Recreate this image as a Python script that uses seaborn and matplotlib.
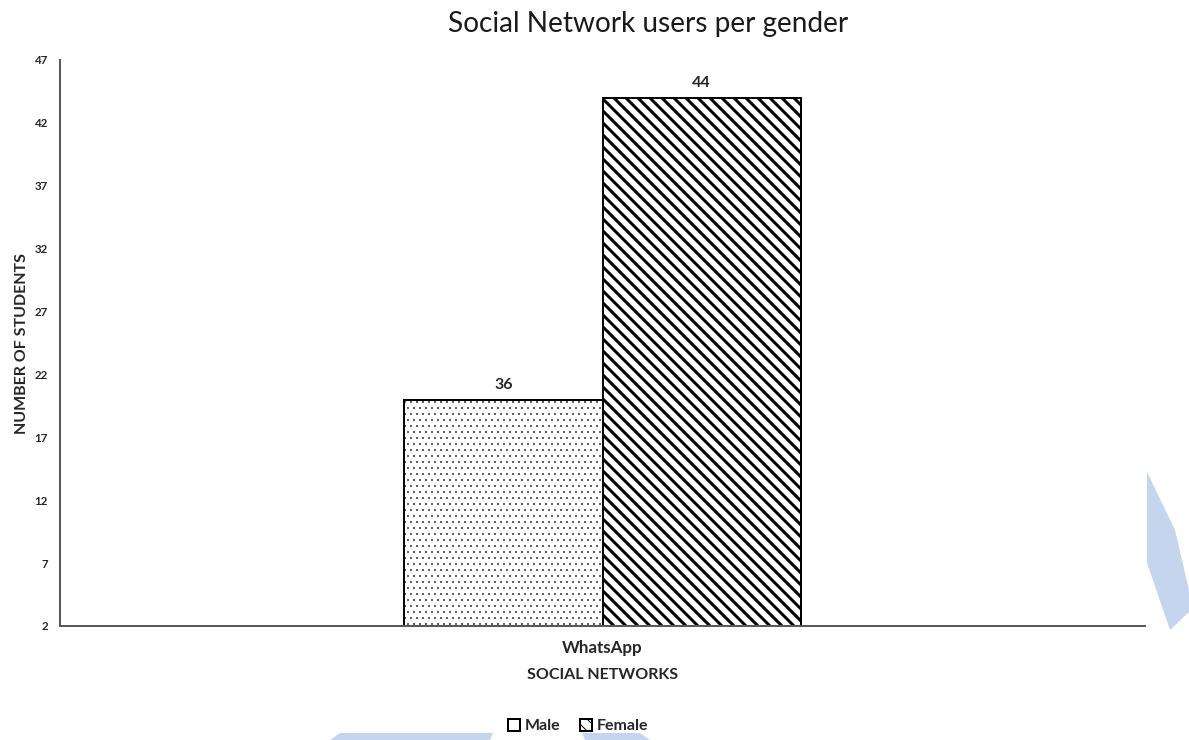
import pandas as pd
import matplotlib.pyplot as plt
import matplotlib.patches as mpatches
import seaborn as sns

# Data
networks = ['WhatsApp']
genders = ['Male', 'Female']
users = [20, 44]            # bar heights as drawn
bar_labels = ['36', '44']   # labels printed above the bars
y_ticks = list(range(2, 48, 5))

data = pd.DataFrame({
    'network': networks * len(genders),
    'gender': genders,
    'users': users,
})

sns.set_theme(style='white')
plt.rcParams['font.family'] = ['Lato', 'DejaVu Sans']
plt.rcParams['hatch.color'] = 'black'

fig = plt.figure(figsize=(1189 / 72, 740 / 72), dpi=72)
ax = fig.add_axes([60 / 1189, 114 / 740, 1085 / 1189, 566 / 740])

sns.barplot(
    data=data, x='network', y='users', hue='gender',
    palette=['white', 'white'], edgecolor='black', linewidth=2,
    width=0.365, legend=False, ax=ax,
)

hatches = ['..', '\\\\']
hatch_lw = [0.5, 3.0]
for container, hatch, lw, label in zip(ax.containers, hatches, hatch_lw, bar_labels):
    for bar in container:
        bar.set_hatch(hatch)
        if hasattr(bar, 'set_hatch_linewidth'):
            bar.set_hatch_linewidth(lw)
    ax.bar_label(container, labels=[label], padding=8,
                 fontsize=16, fontweight='bold', color='#262626')

ax.set_ylim(2, 47)
ax.set_xlim(-0.5, 0.5)
ax.set_yticks(y_ticks)
ax.tick_params(axis='y', labelsize=11.5, pad=12, length=0)
ax.tick_params(axis='x', labelsize=17, pad=14, length=0)
for lab in ax.get_yticklabels() + ax.get_xticklabels():
    lab.set_fontweight('bold')
    lab.set_color('#262626')

for side in ['top', 'right']:
    ax.spines[side].set_visible(False)
for side in ['left', 'bottom']:
    ax.spines[side].set_color('#595959')
    ax.spines[side].set_linewidth(2)

ax.set_ylabel('NUMBER OF STUDENTS', fontsize=16, fontweight='bold',
              color='#262626', labelpad=6)
ax.set_xlabel('SOCIAL NETWORKS', fontsize=16, fontweight='bold',
              color='#262626', labelpad=12)
fig.suptitle('Social Network users per gender', fontsize=28, y=0.985,
             x=648 / 1189, color='#1a1a1a')

handles = [
    mpatches.Patch(facecolor='white', edgecolor='black', linewidth=2, label='Male'),
    mpatches.Patch(facecolor='white', edgecolor='black', linewidth=2,
                   hatch='\\\\', label='Female'),
]
fig.legend(handles=handles, loc='center', bbox_to_anchor=(578 / 1189, 1 - 726 / 740),
           ncol=2, frameon=False, handlelength=0.75, handleheight=0.75,
           handletextpad=0.3, columnspacing=1.2,
           prop={'weight': 'bold', 'size': 16})

# light blue page decorations visible in the reference
deco = '#c6d5ee'
fig.patches.append(mpatches.Polygon(
    [(1147, 472), (1147, 563), (1170, 630), (1189, 612), (1189, 590), (1175, 530)],
    closed=True, transform=None, facecolor=deco, edgecolor='none'))
fig.patches.append(mpatches.Polygon(
    [(340, 733), (493, 733), (490, 740), (330, 740)],
    closed=True, transform=None, facecolor=deco, edgecolor='none'))
fig.patches.append(mpatches.Polygon(
    [(582, 733), (640, 733), (650, 740), (585, 740)],
    closed=True, transform=None, facecolor=deco, edgecolor='none'))
for p in fig.patches:
    xy = p.get_xy()
    xy[:, 1] = 740 - xy[:, 1]
    p.set_xy(xy)

fig.savefig('out.png', dpi=72)
